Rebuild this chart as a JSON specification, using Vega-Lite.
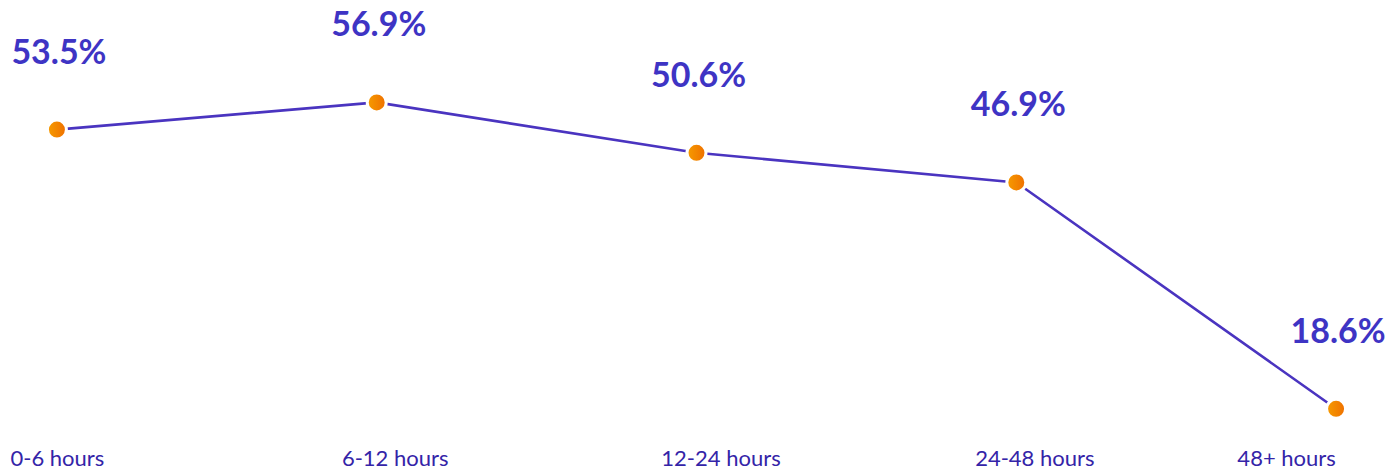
{
  "$schema": "https://vega.github.io/schema/vega-lite/v6.json",
  "width": 1393,
  "height": 440,
  "autosize": "none",
  "padding": {"top": 0, "left": 0, "right": 0, "bottom": 29},
  "background": "#ffffff",
  "config": {"view": {"stroke": null}, "font": "Lato"},
  "data": {
    "values": [
      {"window": "0-6 hours", "rate": 53.5, "label": "53.5%"},
      {"window": "6-12 hours", "rate": 56.9, "label": "56.9%"},
      {"window": "12-24 hours", "rate": 50.6, "label": "50.6%"},
      {"window": "24-48 hours", "rate": 46.9, "label": "46.9%"},
      {"window": "48+ hours", "rate": 18.6, "label": "18.6%"}
    ]
  },
  "encoding": {
    "x": {
      "field": "window",
      "type": "ordinal",
      "sort": null,
      "scale": {"type": "point", "padding": 0.178},
      "axis": {
        "title": null,
        "domain": false,
        "ticks": false,
        "grid": false,
        "labelAngle": 0,
        "labelFont": "Lato",
        "labelFontSize": 22,
        "labelColor": "#3424a8",
        "labelPadding": 8,
        "labelOffset": {
          "condition": [
            {"test": "datum.value == '48+ hours'", "value": -50},
            {"test": "datum.value == '24-48 hours'", "value": 18},
            {"test": "datum.value == '12-24 hours'", "value": 24},
            {"test": "datum.value == '6-12 hours'", "value": 18}
          ],
          "value": 0
        }
      }
    },
    "y": {
      "field": "rate",
      "type": "quantitative",
      "scale": {"domain": [14.7, 69.7], "zero": false},
      "axis": null
    }
  },
  "layer": [
    {
      "mark": {"type": "line", "color": "#4a34c0", "strokeWidth": 2.6}
    },
    {
      "mark": {
        "type": "point",
        "shape": "circle",
        "filled": true,
        "size": 360,
        "opacity": 1,
        "stroke": "#ffffff",
        "strokeWidth": 3,
        "fill": {
          "gradient": "linear",
          "x1": 0, "y1": 0, "x2": 1, "y2": 0,
          "stops": [
            {"offset": 0, "color": "#f69c00"},
            {"offset": 1, "color": "#ef6f00"}
          ]
        }
      }
    },
    {
      "mark": {
        "type": "text",
        "font": "Lato",
        "fontSize": 34,
        "fontWeight": "bold",
        "color": "#3e34c4",
        "dy": -76,
        "dx": 2
      },
      "encoding": {"text": {"field": "label"}}
    }
  ]
}
